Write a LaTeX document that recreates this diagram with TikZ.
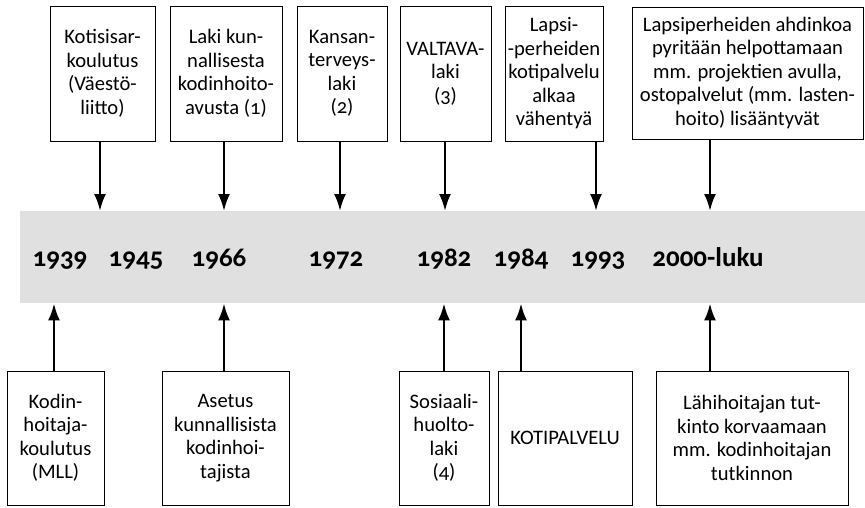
\documentclass[tikz,border=0pt]{standalone}
\usepackage{fontspec}
\setmainfont{Carlito}[Numbers=OldStyle]
\usetikzlibrary{arrows.meta}
\begin{document}
\begin{tikzpicture}[x=1pt,y=-1pt,
  box/.style={draw=black,line width=0.9pt,align=center,inner sep=0pt,
    font=\fontsize{20.6}{23.5}\selectfont},
  yr/.style={font=\fontsize{27}{30}\selectfont\bfseries,inner sep=0pt,anchor=base},
  arr/.style={line width=2.4pt,-{Latex[length=17pt,width=12pt]}}]
\useasboundingbox (0,0) rectangle (865,507);
% band
\node[fill=black!12,minimum width=845pt,minimum height=92pt,inner sep=0pt,anchor=north west] (band) at (20,211) {};
% years
\node[yr] (y1939) at (60,266) {1939};
\node[yr] (y1945) at (136,266) {1945};
\node[yr] (y1966) at (219,266) {1966};
\node[yr] (y1972) at (336,266) {1972};
\node[yr] (y1982) at (444,266) {1982};
\node[yr] (y1984) at (521,266) {1984};
\node[yr] (y1993) at (598,266) {1993};
\node[yr] (y2000) at (708,266) {2000-luku};
% top boxes
\node[box,minimum width=105pt,minimum height=135pt] (t1) at (102.5,73.5) {Kotisisar-\\koulutus\\(Väestö-\\liitto)};
\node[box,minimum width=112pt,minimum height=135pt] (t2) at (226,73.5) {Laki kun-\\nallisesta\\kodinhoito-\\avusta (1)};
\node[box,minimum width=90pt,minimum height=135pt] (t3) at (342,73.5) {Kansan-\\terveys-\\laki\\(2)};
\node[box,minimum width=91pt,minimum height=135pt] (t4) at (445.5,73.5) {VALTAVA-\\laki\\(3)};
\node[box,minimum width=98pt,minimum height=135pt] (t5) at (554,73.5) {Lapsi-\\-perheiden\\kotipalvelu\\alkaa\\vähentyä};
\node[box,minimum width=231pt,minimum height=132pt] (t6) at (747.5,73) {Lapsiperheiden ahdinkoa\\pyritään helpottamaan\\mm. projektien avulla,\\ostopalvelut (mm. lasten-\\hoito) lisääntyvät};
% bottom boxes
\node[box,minimum width=97pt,minimum height=134pt] (b1) at (55.5,438) {Kodin-\\hoitaja-\\koulutus\\(MLL)};
\node[box,minimum width=127pt,minimum height=134pt] (b2) at (225.5,438) {Asetus\\kunnallisista\\kodinhoi-\\tajista};
\node[box,minimum width=90pt,minimum height=134pt] (b3) at (444,438) {Sosiaali-\\huolto-\\laki\\(4)};
\node[box,minimum width=134pt,minimum height=134pt] (b4) at (565,438) {KOTIPALVELU};
\node[box,minimum width=192pt,minimum height=134pt] (b5) at (752,438) {Lähihoitajan tut-\\kinto korvaamaan\\mm. kodinhoitajan\\tutkinnon};
% arrow x positions
\coordinate (x1) at (100,0);
\coordinate (x2) at (224,0);
\coordinate (x3) at (340,0);
\coordinate (x4) at (445,0);
\coordinate (x5) at (596,0);
\coordinate (x6) at (710,0);
\coordinate (z1) at (54,0);
\coordinate (z2) at (224,0);
\coordinate (z3) at (444,0);
\coordinate (z4) at (521,0);
\coordinate (z5) at (710,0);
\foreach \b/\x in {t1/x1,t2/x2,t3/x3,t4/x4,t5/x5,t6/x6}
  \draw[arr] (\b.south -| \x) -- (band.north -| \x);
\foreach \b/\x in {b1/z1,b2/z2,b3/z3,b4/z4,b5/z5}
  \draw[arr] (\b.north -| \x) -- (band.south -| \x);
\end{tikzpicture}
\end{document}
